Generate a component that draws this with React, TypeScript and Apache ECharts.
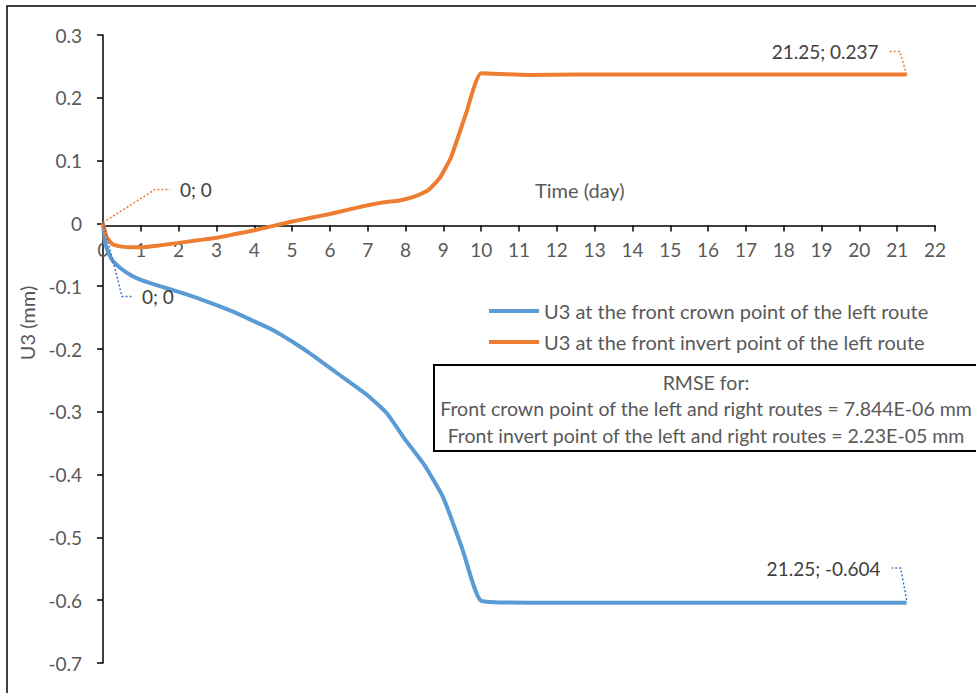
import { useEffect, useRef } from "react";
import * as echarts from "echarts";

// Time (day) and U3 (mm)
const crownTime = [0, 0.05, 0.1, 0.25, 0.5, 0.75, 1, 1.5, 2, 2.5, 3, 3.5, 4, 4.5, 5, 5.5, 6, 6.5, 7, 7.5, 8, 8.5, 9, 9.5, 10, 11.25, 12.5, 13.75, 15, 16.25, 17.5, 18.75, 20, 21.25];
const crownU3 = [0, -0.028, -0.04, -0.059, -0.073, -0.083, -0.09, -0.1, -0.109, -0.119, -0.13, -0.142, -0.156, -0.17, -0.188, -0.208, -0.23, -0.252, -0.274, -0.302, -0.345, -0.385, -0.437, -0.518, -0.601, -0.604, -0.604, -0.604, -0.604, -0.604, -0.604, -0.604, -0.604, -0.604];

const invertTime = [0, 0.1, 0.25, 0.5, 0.75, 1, 1.5, 2, 2.5, 3, 3.5, 4, 4.5, 5, 5.5, 6, 6.5, 7, 7.5, 7.8, 8.25, 8.6, 8.9, 9.2, 9.6, 10, 11.25, 12.5, 13.75, 15, 16.25, 17.5, 18.75, 20, 21.25];
const invertU3 = [0, -0.022, -0.033, -0.037, -0.038, -0.038, -0.035, -0.031, -0.027, -0.023, -0.017, -0.011, -0.004, 0.003, 0.009, 0.015, 0.022, 0.029, 0.034, 0.036, 0.043, 0.053, 0.072, 0.105, 0.175, 0.239, 0.2365, 0.237, 0.237, 0.237, 0.237, 0.237, 0.237, 0.237, 0.237];

const seriesNames = [
  "U3 at the front crown point of the left route",
  "U3 at the front invert point of the left route",
];
const rmseLines = [
  "RMSE for:",
  "Front crown point of the left and right routes = 7.844E-06 mm",
  "Front invert point of the left and right routes = 2.23E-05 mm",
];
const xAxisTitle = "Time (day)";
const yAxisTitle = "U3 (mm)";

const BLUE = "#5B9BD5";
const ORANGE = "#ED7D31";
const FONT = "Lato";

function fmtPt(x: number, y: number) {
  return `${x}; ${y}`;
}

export default function App() {
  const ref = useRef<HTMLDivElement>(null);
  useEffect(() => {
    if (!ref.current) return;
    const chart = echarts.init(ref.current, undefined, { renderer: "svg" });
    const crownData = crownTime.map((t, i) => [t, crownU3[i]]);
    const invertData = invertTime.map((t, i) => [t, invertU3[i]]);
    chart.setOption({
      animation: false,
      backgroundColor: "#fff",
      textStyle: { fontFamily: FONT },
      grid: { left: 103, right: 41, top: 35, bottom: 30, containLabel: false },
      xAxis: {
        type: "value",
        min: 0,
        max: 22,
        interval: 1,
        axisLine: { onZero: false, lineStyle: { color: "#000", width: 1.5 } },
        axisTick: { show: true, inside: false, length: 6, lineStyle: { color: "#000", width: 1.5 } },
        axisLabel: { color: "#595959", fontSize: 19, margin: 14, fontFamily: FONT },
        splitLine: { show: false },
      },
      yAxis: {
        type: "value",
        min: -0.7,
        max: 0.3,
        interval: 0.1,
        axisLine: { show: true, lineStyle: { color: "#000", width: 1.5 } },
        axisTick: { show: true, inside: false, length: 6, lineStyle: { color: "#000", width: 1.5 } },
        axisLabel: {
          color: "#595959",
          fontSize: 19,
          margin: 21,
          fontFamily: FONT,
          formatter: (v: number) => String(Number(v.toFixed(1))),
        },
        splitLine: { show: false },
      },
      legend: {
        orient: "vertical",
        left: 484,
        top: 296,
        itemWidth: 50,
        itemHeight: 4,
        itemGap: 11,
        icon: "rect",
        textStyle: { color: "#595959", fontSize: 20, fontFamily: FONT },
        data: seriesNames,
      },
      series: [
        {
          name: seriesNames[0],
          type: "line",
          data: crownData,
          showSymbol: false,
          symbol: "none",
          smooth: 0.15,
          lineStyle: { color: BLUE, width: 4 },
          itemStyle: { color: BLUE },
          z: 3,
        },
        {
          name: seriesNames[1],
          type: "line",
          data: invertData,
          showSymbol: false,
          symbol: "none",
          smooth: 0.15,
          lineStyle: { color: ORANGE, width: 4 },
          itemStyle: { color: ORANGE },
          z: 4,
        },
      ],
    });

    // place the x axis (line, ticks, labels) at U3 = 0
    const zeroY = chart.convertToPixel({ yAxisIndex: 0 }, 0) as number;
    const minY = chart.convertToPixel({ yAxisIndex: 0 }, -0.7) as number;

    const px = (d: number[]) => chart.convertToPixel({ gridIndex: 0 }, d) as number[];
    const oS = px(invertData[0]);
    const oE = px(invertData[invertData.length - 1]);
    const cS = px(crownData[0]);
    const cE = px(crownData[crownData.length - 1]);
    const dotted = (pts: number[][], color: string) => ({
      type: "polyline",
      shape: { points: pts },
      style: { stroke: color, lineWidth: 1.5, lineDash: [2, 2], fill: "none" },
      silent: true,
      z: 10,
    });
    const label = (text: string, x: number, y: number, align: string) => ({
      type: "text",
      x,
      y,
      style: { text, fill: "#404040", font: `19px ${FONT}`, align, verticalAlign: "middle" },
      silent: true,
      z: 10,
    });
    const lastC = crownData[crownData.length - 1];
    const lastO = invertData[invertData.length - 1];

    chart.setOption({
      xAxis: { offset: -(minY - zeroY) },
      graphic: [
        {
          type: "rect",
          shape: { x: 7, y: 6, width: 1100, height: 800 },
          style: { fill: "none", stroke: "#000", lineWidth: 1.5 },
          silent: true,
          z: 0,
        },
        {
          type: "text",
          x: 535,
          y: 190,
          style: { text: xAxisTitle, fill: "#595959", font: `20px ${FONT}`, align: "left", verticalAlign: "middle" },
          silent: true,
        },
        {
          type: "text",
          x: 27,
          y: 323,
          rotation: Math.PI / 2,
          style: { text: yAxisTitle, fill: "#595959", font: `20px ${FONT}`, align: "center", verticalAlign: "middle" },
          silent: true,
        },
        {
          type: "rect",
          shape: { x: 434, y: 365, width: 560, height: 86 },
          style: { fill: "#fff", stroke: "#000", lineWidth: 2 },
          silent: true,
          z: 5,
        },
        ...rmseLines.map((t, i) => ({
          type: "text",
          x: 706,
          y: 382 + i * 26.5,
          style: { text: t, fill: "#595959", font: `19.5px ${FONT}`, align: "center", verticalAlign: "middle" },
          silent: true,
          z: 6,
        })),
        dotted([oS, [oS[0] + 52, oS[1] - 33], [oS[0] + 67, oS[1] - 33]], ORANGE),
        label(fmtPt(invertData[0][0], invertData[0][1]), oS[0] + 77, oS[1] - 33, "left"),
        dotted([cS, [cS[0] + 19, cS[1] + 74], [cS[0] + 30, cS[1] + 74]], "#4472C4"),
        label(fmtPt(crownData[0][0], crownData[0][1]), cS[0] + 39, cS[1] + 74, "left"),
        dotted([oE, [oE[0] - 7, oE[1] - 23], [oE[0] - 19, oE[1] - 23]], ORANGE),
        label(fmtPt(lastO[0], lastO[1]), oE[0] - 28, oE[1] - 23, "right"),
        dotted([cE, [cE[0] - 6, cE[1] - 32], [cE[0] - 15, cE[1] - 32]], "#4472C4"),
        label(fmtPt(lastC[0], lastC[1]), cE[0] - 26, cE[1] - 32, "right"),
      ],
    });

    return () => chart.dispose();
  }, []);
  return (
    <div
      ref={ref}
      style={{ position: "fixed", left: 0, top: 0, width: 976, height: 693 }}
    />
  );
}
